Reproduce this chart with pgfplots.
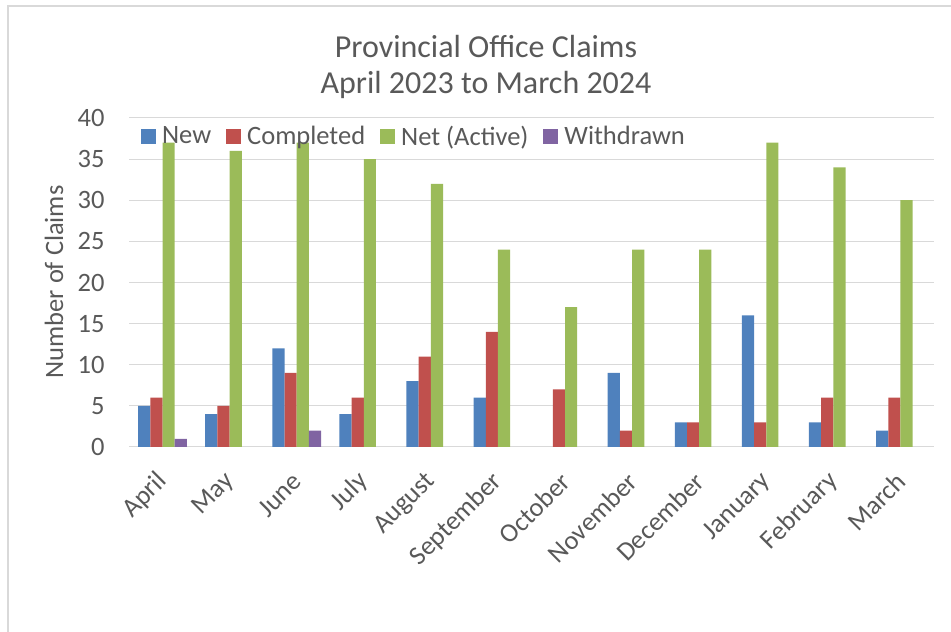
\documentclass[border=0pt]{standalone}
\usepackage{pgfplots}
\pgfplotsset{compat=1.18}
\usepackage{fontspec}
\setmainfont{Carlito}
\definecolor{cNew}{HTML}{4F81BD}
\definecolor{cComp}{HTML}{C0504D}
\definecolor{cNet}{HTML}{9BBB59}
\definecolor{cWd}{HTML}{8064A2}
\definecolor{txt}{HTML}{595959}
\definecolor{grd}{HTML}{D9D9D9}
\begin{document}
\begin{tikzpicture}[x=1pt,y=1pt]
\useasboundingbox (0,0) rectangle (951,632);
\draw[grd, line width=1.5pt] (8,0) -- (8,626) -- (951,626);
\node[txt, font=\fontsize{32}{38}\selectfont] at (486,585) {Provincial Office Claims};
\node[txt, font=\fontsize{32}{38}\selectfont] at (486,547) {April 2023 to March 2024};
\node[txt, rotate=90, font=\fontsize{26.5}{30}\selectfont] at (54,350) {Number of Claims};
\begin{axis}[
  at={(129pt,185pt)}, anchor=south west,
  scale only axis, width=805pt, height=329pt,
  ybar=0pt, bar width=12.2pt,
  xmin=-0.5, xmax=11.5, ymin=0, ymax=40,
  ytick={0,5,...,40},
  xtick={0,...,11},
  xticklabels={April,May,June,July,August,September,October,November,December,January,February,March},
  axis line style={draw=none},
  major tick length=0pt,
  ymajorgrids, grid style={grd, line width=1pt},
  /pgf/number format/assume math mode=true,
  tick label style={txt, font=\fontsize{26.5}{30}\selectfont},
  yticklabel style={xshift=-21pt},
  xticklabel style={xshift=3pt, yshift=-28pt, rotate=45, anchor=east},
  legend style={at={(0.011,0.945)}, anchor=west, draw=none, fill=none,
    font=\fontsize{26.5}{30}\selectfont, text=txt, legend columns=-1,
    /tikz/every even column/.append style={column sep=13pt}},
  legend image code/.code={\fill[#1] (0pt,-7.5pt) rectangle (15pt,7.5pt); \path (19pt,0pt);},
]
\addplot[fill=cNew, draw=none] coordinates {(0,5) (1,4) (2,12) (3,4) (4,8) (5,6) (7,9) (8,3) (9,16) (10,3) (11,2)};
\addplot[fill=cComp, draw=none] coordinates {(0,6) (1,5) (2,9) (3,6) (4,11) (5,14) (6,7) (7,2) (8,3) (9,3) (10,6) (11,6)};
\addplot[fill=cNet, draw=none] coordinates {(0,37) (1,36) (2,37) (3,35) (4,32) (5,24) (6,17) (7,24) (8,24) (9,37) (10,34) (11,30)};
\addplot[fill=cWd, draw=none] coordinates {(0,1) (2,2)};
\legend{New, Completed, Net (Active), Withdrawn}
\end{axis}
\end{tikzpicture}
\end{document}
